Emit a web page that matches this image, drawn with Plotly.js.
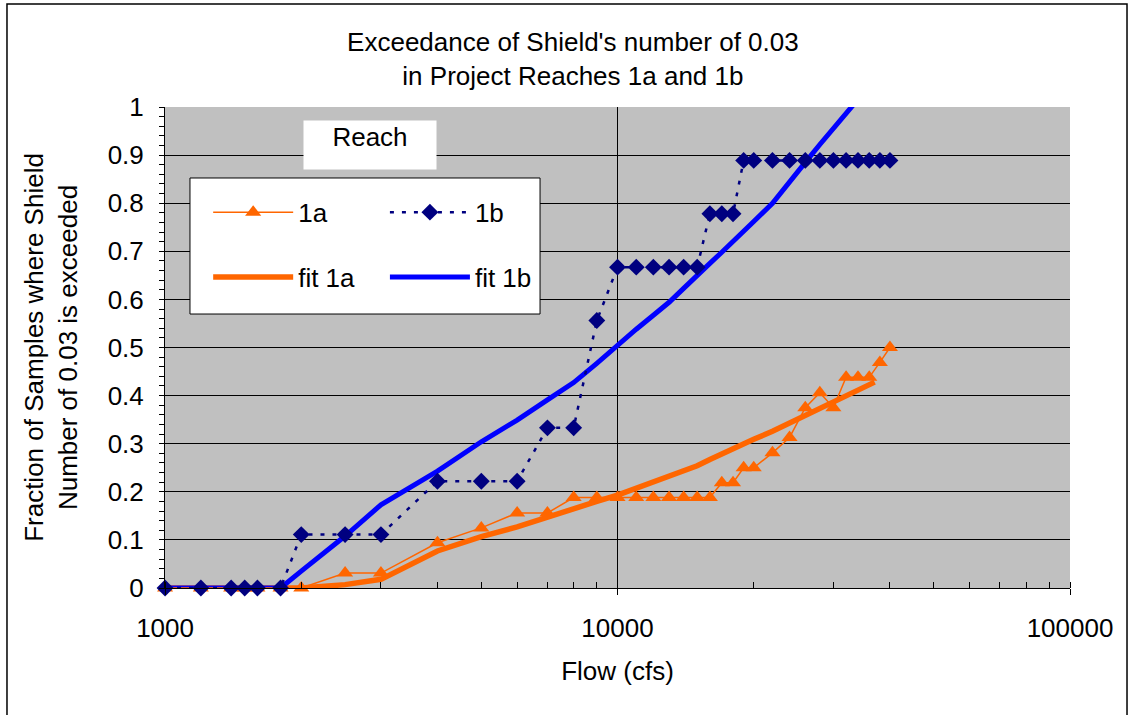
<!DOCTYPE html>
<html>
<head>
<meta charset="utf-8">
<script src="https://cdn.plot.ly/plotly-3.0.1.min.js"></script>
<style>
  html, body { margin: 0; padding: 0; background: #ffffff; }
  #chart { width: 1130px; height: 715px; }
</style>
</head>
<body>
<div id="chart"></div>
<script>
// Flow values (cfs) at which the exceedance fraction was tallied
const flows = [1000, 1200, 1400, 1500, 1600, 1800, 2000, 2500, 3000, 4000, 5000, 6000,
  7000, 8000, 9000, 10000, 11000, 12000, 13000, 14000, 15000, 16000, 17000, 18000,
  19000, 20000, 22000, 24000, 26000, 28000, 30000, 32000, 34000, 36000, 38000, 40000];

// Observed fraction of samples exceeding Shield's number 0.03, reach 1a
const reach1a = [0, 0, 0, 0, 0, 0, 0, 0.031, 0.031, 0.094, 0.125, 0.156,
  0.156, 0.188, 0.188, 0.188, 0.188, 0.188, 0.188, 0.188, 0.188, 0.188, 0.219, 0.219,
  0.25, 0.25, 0.281, 0.313, 0.375, 0.406, 0.375, 0.438, 0.438, 0.438, 0.469, 0.5];

// Observed fraction, reach 1b
const reach1b = [0, 0, 0, 0, 0, 0, 0.111, 0.111, 0.111, 0.222, 0.222, 0.222,
  0.333, 0.333, 0.556, 0.667, 0.667, 0.667, 0.667, 0.667, 0.667, 0.778, 0.778, 0.778,
  0.889, 0.889, 0.889, 0.889, 0.889, 0.889, 0.889, 0.889, 0.889, 0.889, 0.889, 0.889];

// Fitted curve, reach 1a
const fitFlows1a = [1000, 1200, 1400, 1500, 1600, 1800, 2000, 2500, 3000, 4000, 5000, 6000,
  7000, 8000, 9000, 10000, 11000, 12000, 13000, 14000, 15000, 16000, 17000, 18000,
  19000, 20000, 22000, 24000, 26000, 28000, 30000, 32000, 34000, 36000, 37000];
const fit1a = [0, 0, 0, 0, 0, 0, 0, 0.007, 0.018, 0.077, 0.107, 0.127,
  0.148, 0.166, 0.180, 0.193, 0.207, 0.219, 0.230, 0.242, 0.254, 0.267, 0.279, 0.289,
  0.298, 0.309, 0.326, 0.343, 0.358, 0.372, 0.384, 0.397, 0.410, 0.422, 0.428];

// Fitted curve, reach 1b (runs past the top of the axis and is clipped there)
const fit1b = [0, 0, 0, 0, 0, 0, 0.035, 0.108, 0.173, 0.243, 0.304, 0.349,
  0.391, 0.427, 0.467, 0.505, 0.538, 0.567, 0.594, 0.623, 0.651, 0.675, 0.698, 0.72,
  0.74, 0.762, 0.80, 0.846, 0.885, 0.922, 0.954, 0.985, 1.016, 1.045, 1.07, 1.095];

const xTickVals = [1000, 10000, 100000];
const xTickText = ['1000', '10000', '100000'];

const FONT = 'Liberation Sans, Arial, sans-serif';
const ORANGE = '#FF6600';
const NAVY = '#000080';
const BLUE = '#0000FF';

const traces = [
  {
    name: 'fit 1a', x: fitFlows1a, y: fit1a, type: 'scatter', mode: 'lines',
    line: { color: ORANGE, width: 5.5 }, legend: 'legend', legendgroup: 'g3', legendrank: 2
  },
  {
    name: 'fit 1b', x: flows, y: fit1b, type: 'scatter', mode: 'lines',
    line: { color: BLUE, width: 5 }, legend: 'legend2', legendgroup: 'g4', legendrank: 2
  },
  {
    name: '1a', x: flows, y: reach1a, type: 'scatter', mode: 'lines+markers',
    line: { color: ORANGE, width: 1.5 },
    marker: { symbol: 'triangle-up', size: 14, color: ORANGE },
    cliponaxis: false, legend: 'legend', legendgroup: 'g1', legendrank: 1
  },
  {
    name: '1b', x: flows, y: reach1b, type: 'scatter', mode: 'lines+markers',
    line: { color: NAVY, width: 2.5, dash: '4px,8px' },
    marker: { symbol: 'diamond', size: 13, color: NAVY },
    cliponaxis: false, legend: 'legend2', legendgroup: 'g2', legendrank: 1
  }
];

const legendCommon = {
  bgcolor: 'rgba(0,0,0,0)', borderwidth: 0,
  font: { family: FONT, size: 26, color: '#000' },
  itemwidth: 80, tracegroupgap: 28, traceorder: 'grouped',
  xanchor: 'left', yanchor: 'top', itemclick: false, itemdoubleclick: false
};

const layout = {
  width: 1130, height: 715,
  margin: { l: 165, r: 60, t: 107, b: 127 },
  paper_bgcolor: '#ffffff',
  plot_bgcolor: '#C0C0C0',
  font: { family: FONT, size: 26, color: '#000' },
  title: {
    text: "Exceedance of Shield's number of 0.03<br>in Project Reaches 1a and 1b",
    font: { family: FONT, size: 26, color: '#000' },
    x: 0.507, xanchor: 'center', xref: 'container',
    y: 0.928, yanchor: 'top', yref: 'container'
  },
  xaxis: {
    type: 'log', range: [2.9999, 5],
    tickvals: xTickVals, ticktext: xTickText,
    showgrid: true, gridcolor: '#000', gridwidth: 1,
    showline: true, linecolor: '#000', linewidth: 1,
    ticks: 'outside', ticklen: 6, tickcolor: '#000',
    ticklabelstandoff: 11,
    minor: { ticks: 'inside', ticklen: 6, tickcolor: '#000', dtick: 'D1', showgrid: false },
    zeroline: false,
    tickfont: { family: FONT, size: 26, color: '#000' },
    title: { text: 'Flow (cfs)', font: { family: FONT, size: 26, color: '#000' }, standoff: 19 },
    automargin: false
  },
  yaxis: {
    range: [0, 1], dtick: 0.1,
    showgrid: true, gridcolor: '#000', gridwidth: 1,
    showline: true, linecolor: '#000', linewidth: 1,
    ticks: 'outside', ticklen: 5, tickcolor: '#000',
    ticklabelstandoff: 10,
    minor: { ticks: 'outside', ticklen: 5, tickcolor: '#000', dtick: 0.02, showgrid: false },
    zeroline: false,
    tickfont: { family: FONT, size: 26, color: '#000' },
    title: {
      text: 'Fraction of Samples where Shield<br>Number of 0.03 is exceeded',
      font: { family: FONT, size: 26, color: '#000' }, standoff: 22
    },
    automargin: false
  },
  legend: Object.assign({}, legendCommon, { x: 0.0477, y: 0.83 }),
  legend2: Object.assign({}, legendCommon, { x: 0.243, y: 0.83 }),
  shapes: [
    // outer chart frame
    { type: 'rect', xref: 'paper', yref: 'paper', x0: -0.1746, x1: 1.063, y0: -0.3, y1: 1.214,
      line: { color: '#000', width: 1.5 }, fillcolor: 'rgba(0,0,0,0)', layer: 'below' },
    // legend frame
    { type: 'rect', xref: 'paper', yref: 'paper', x0: 0.0276, x1: 0.4144, y0: 0.5696, y1: 0.8524,
      line: { color: '#000', width: 1 }, fillcolor: '#ffffff', layer: 'above' }
  ],
  annotations: [
    { text: 'Reach', xref: 'paper', yref: 'paper', x: 0.226, y: 0.922,
      xanchor: 'center', yanchor: 'middle', showarrow: false,
      width: 130, height: 46, valign: 'top', bgcolor: '#ffffff',
      font: { family: FONT, size: 26, color: '#000' } }
  ],
  showlegend: true
};

Plotly.newPlot('chart', traces, layout, { staticPlot: true, displayModeBar: false });
</script>
</body>
</html>
